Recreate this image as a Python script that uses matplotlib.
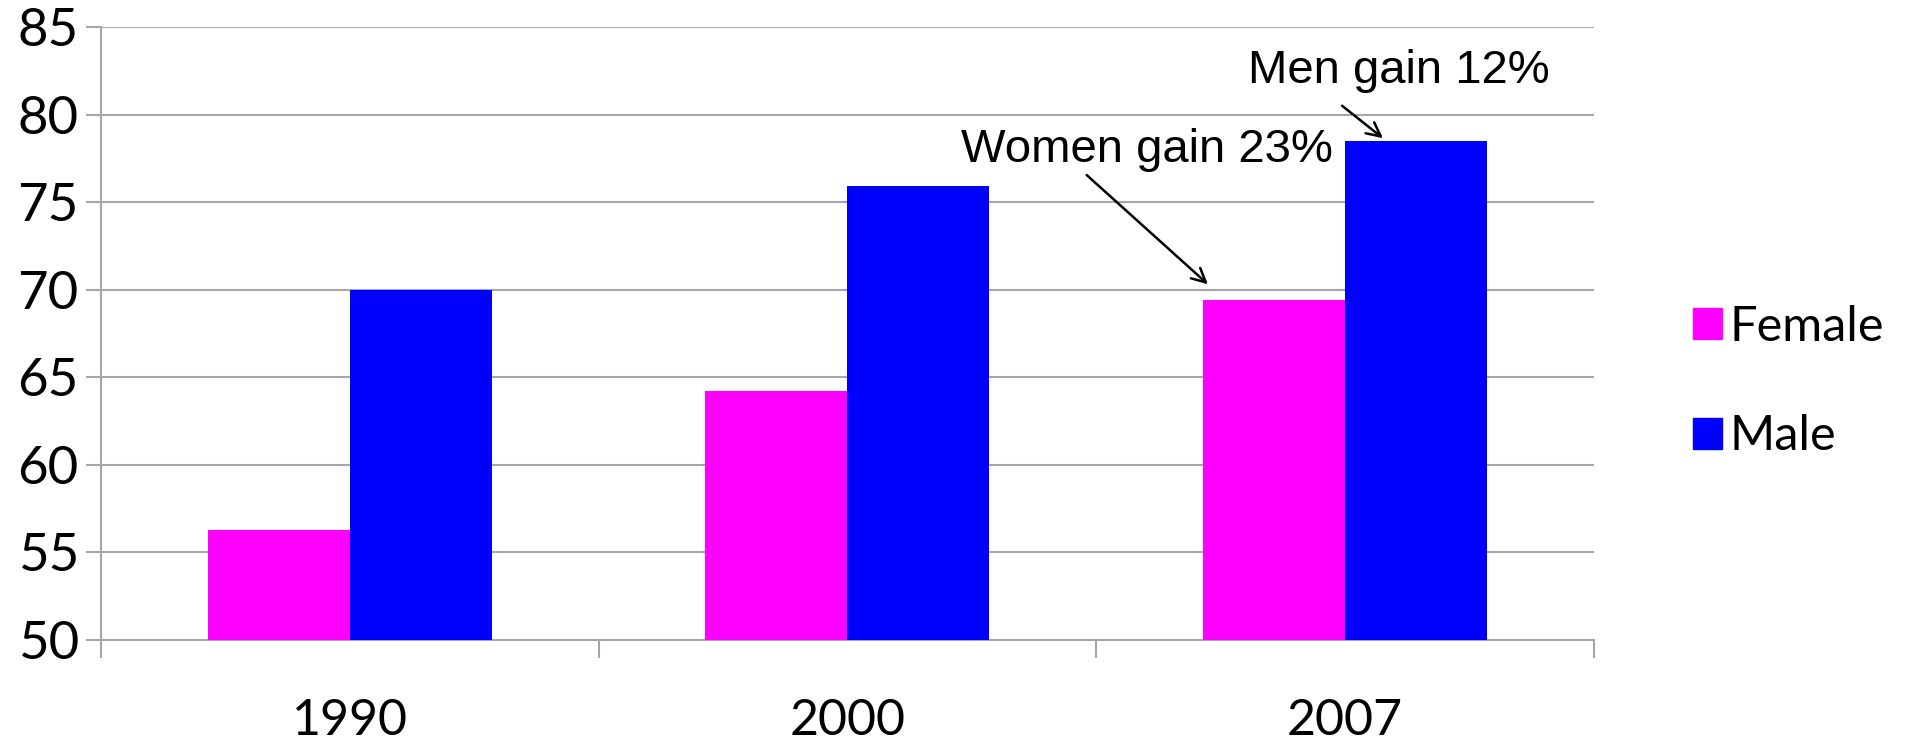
import numpy as np
import matplotlib.pyplot as plt
from matplotlib.patches import Patch

years = ['1990', '2000', '2007']
female = [56.3, 64.2, 69.4]
male = [70.0, 75.9, 78.5]

fig = plt.figure(figsize=(19.11, 7.48), dpi=100)
ax = fig.add_axes([0.0529, 0.1444, 0.781, 0.8196])

x = np.arange(len(years))
w = 1 / 3.5
ax.bar(x - w / 2, np.array(female) - 50, w, bottom=50, color='#ff00ff', zorder=3)
ax.bar(x + w / 2, np.array(male) - 50, w, bottom=50, color='#0000ff', zorder=3)

ax.set_xlim(-0.5, 2.5)
ax.set_ylim(50, 85)
ax.set_yticks(np.arange(50, 86, 5))
ax.yaxis.grid(True, color='#a6a6a6', lw=1.5, zorder=0)

# boundary ticks, labels in the middle
ax.set_xticks([-0.5, 0.5, 1.5, 2.5])
ax.set_xticklabels([])
ax.set_xticks(x, minor=True)
ax.set_xticklabels(years, minor=True)
ax.tick_params(axis='x', which='major', length=13, width=1.5, color='#a6a6a6')
ax.tick_params(axis='x', which='minor', length=0, pad=42, labelsize=36)
ax.tick_params(axis='y', length=11, width=1.5, color='#a6a6a6', labelsize=38, pad=5)
for t in ax.get_xticklabels(minor=True) + ax.get_yticklabels():
    t.set_fontfamily('Lato')

for s in ['top', 'right']:
    ax.spines[s].set_visible(False)
ax.spines['left'].set_color('#a6a6a6')
ax.spines['bottom'].set_color('#a6a6a6')
ax.spines['left'].set_linewidth(1.5)
ax.spines['bottom'].set_linewidth(1.5)

# annotations
ax.annotate('', xy=(1.729, 70.2), xytext=(1.477, 76.65),
            arrowprops=dict(arrowstyle='->', lw=1.8, color='black', mutation_scale=25))
ax.annotate('', xy=(2.081, 78.55), xytext=(1.99, 80.6),
            arrowprops=dict(arrowstyle='->', lw=1.8, color='black', mutation_scale=25))
ax.text(1.603, 78.0, 'Women gain 23%', ha='center', va='center', fontsize=34,
        family='Liberation Sans')
ax.text(2.108, 82.5, 'Men gain 12%', ha='center', va='center', fontsize=34,
        family='Liberation Sans')

handles = [Patch(color='#ff00ff', label='Female'), Patch(color='#0000ff', label='Male')]
fig.legend(handles=handles, loc='center left', bbox_to_anchor=(0.863, 0.49),
           frameon=False, handlelength=0.6, handleheight=0.6, handletextpad=0.15,
           labelspacing=1.35, prop={'family': 'Lato', 'size': 35})

fig.savefig('out.png', dpi=100)
